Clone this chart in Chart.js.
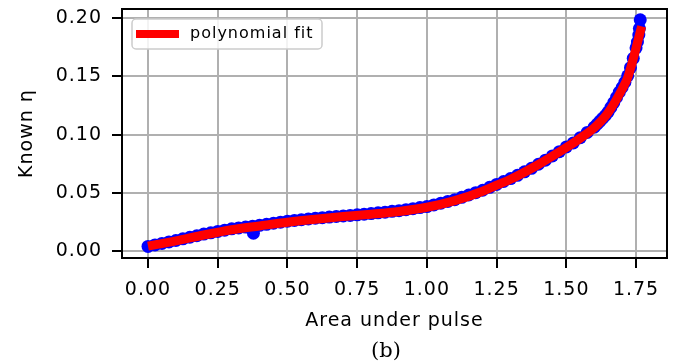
<!DOCTYPE html>
<html>
<head>
<meta charset="utf-8">
<script src="https://cdn.jsdelivr.net/npm/chart.js@4"></script>
<style>
  html, body { margin: 0; padding: 0; background: #fff; }
  canvas { display: block; }
</style>
</head>
<body>
<canvas id="fitChart" width="690" height="364"></canvas>
<script>
// ---- data ----
const xTicks = [0, 0.25, 0.5, 0.75, 1.0, 1.25, 1.5, 1.75];
const yTicks = [0, 0.05, 0.10, 0.15, 0.20];

// measured points (blue)
const scatterX = [
  0.000, 0.025, 0.050, 0.075, 0.100, 0.125, 0.150, 0.175, 0.200, 0.225,
  0.250, 0.275, 0.300, 0.325, 0.350, 0.375, 0.378, 0.400, 0.425, 0.450,
  0.475, 0.500, 0.525, 0.550, 0.575, 0.600, 0.625, 0.650, 0.675, 0.700,
  0.725, 0.750, 0.775, 0.800, 0.825, 0.850, 0.875, 0.900, 0.925, 0.950,
  0.975, 1.000, 1.025, 1.050, 1.075, 1.100, 1.125, 1.150, 1.175, 1.200,
  1.225, 1.250, 1.275, 1.300, 1.325, 1.350, 1.375, 1.400, 1.425, 1.450,
  1.475, 1.500, 1.525, 1.550, 1.575, 1.600, 1.610, 1.620, 1.630, 1.640,
  1.650, 1.660, 1.670, 1.680, 1.690, 1.700, 1.710, 1.720, 1.730, 1.740,
  1.750, 1.755, 1.760, 1.762, 1.765
];
const scatterY = [
  0.0042, 0.0055, 0.0068, 0.0081, 0.0093, 0.0107, 0.0121, 0.0134, 0.0148, 0.0159,
  0.0171, 0.0182, 0.0193, 0.0201, 0.0208, 0.0216, 0.0156, 0.0223, 0.0232, 0.0241,
  0.0250, 0.0259, 0.0265, 0.0272, 0.0278, 0.0284, 0.0289, 0.0294, 0.0299, 0.0304,
  0.0308, 0.0313, 0.0319, 0.0324, 0.0330, 0.0336, 0.0343, 0.0349, 0.0357, 0.0366,
  0.0375, 0.0384, 0.0398, 0.0413, 0.0428, 0.0443, 0.0463, 0.0483, 0.0503, 0.0524,
  0.0549, 0.0574, 0.0599, 0.0624, 0.0652, 0.0682, 0.0712, 0.0747, 0.0782, 0.0818,
  0.0855, 0.0895, 0.0930, 0.0975, 0.1020, 0.1065, 0.1090, 0.1115, 0.1140, 0.1165,
  0.1195, 0.1235, 0.1275, 0.1320, 0.1365, 0.1405, 0.1450, 0.1505, 0.1575, 0.1655,
  0.1745, 0.1795, 0.1855, 0.1910, 0.1985
];

// polynomial fit (red)
const fitX = [0, 0.1, 0.2, 0.3, 0.4, 0.5, 0.6, 0.7, 0.8, 0.9, 1.0, 1.1, 1.2, 1.25,
  1.3, 1.4, 1.5, 1.55, 1.6, 1.65, 1.7, 1.72, 1.74, 1.755, 1.77];
const fitY = [0.0045, 0.0090, 0.0140, 0.0185, 0.0218, 0.0250, 0.0276, 0.0298, 0.0318,
  0.0342, 0.0378, 0.0435, 0.0515, 0.0567, 0.0618, 0.0745, 0.0890, 0.0970, 0.1060,
  0.1190, 0.1390, 0.1490, 0.1650, 0.1790, 0.1930];

const FONT = 'DejaVu Sans';
Chart.defaults.font.family = FONT;
Chart.defaults.font.size = 19;
Chart.defaults.color = '#000';

// spread the glyphs a bit, like the reference
const spacingPlugin = {
  id: 'spacing',
  beforeLayout(chart) { chart.ctx.letterSpacing = '1px'; },
  beforeDraw(chart) { chart.ctx.letterSpacing = '1px'; }
};

// full box around the axes, inline legend and caption
const framePlugin = {
  id: 'frame',
  afterDraw(chart) {
    const { ctx, chartArea: a } = chart;
    ctx.save();
    ctx.strokeStyle = '#000';
    ctx.lineWidth = 2;
    ctx.strokeRect(a.left, a.top, a.right - a.left, a.bottom - a.top);

    // legend
    const lx = 132, ly = 19, lw = 190, lh = 30;
    ctx.beginPath();
    ctx.roundRect(lx, ly, lw, lh, 4);
    ctx.fillStyle = 'rgba(255,255,255,0.85)';
    ctx.fill();
    ctx.strokeStyle = '#cccccc';
    ctx.lineWidth = 1.5;
    ctx.stroke();
    ctx.beginPath();
    ctx.moveTo(136, 34);
    ctx.lineTo(179, 34);
    ctx.strokeStyle = '#ff0000';
    ctx.lineWidth = 8;
    ctx.stroke();
    ctx.letterSpacing = '1px';
    ctx.fillStyle = '#000';
    ctx.font = '16px "' + FONT + '"';
    ctx.textAlign = 'left';
    ctx.textBaseline = 'middle';
    ctx.fillText('polynomial fit', 190, 34);

    // caption
    ctx.letterSpacing = '0px';
    ctx.font = '21px "DejaVu Serif"';
    ctx.textAlign = 'center';
    ctx.fillText('(b)', 386, 352);
    ctx.restore();
  }
};

const ctx = document.getElementById('fitChart').getContext('2d');
const chart = new Chart(ctx, {
  type: 'scatter',
  data: {
    datasets: [
      {
        label: 'polynomial fit',
        data: fitX.map((x, i) => ({ x: x, y: fitY[i] })),
        showLine: true,
        borderColor: '#ff0000',
        borderWidth: 9,
        pointRadius: 0,
        cubicInterpolationMode: 'monotone',
        order: 0
      },
      {
        label: 'data',
        data: scatterX.map((x, i) => ({ x: x, y: scatterY[i] })),
        backgroundColor: '#0000ff',
        borderWidth: 0,
        pointRadius: 6.5,
        order: 1
      }
    ]
  },
  options: {
    responsive: false,
    animation: false,
    devicePixelRatio: 1,
    layout: { padding: { top: 9, right: 23, bottom: 0, left: 0 } },
    plugins: {
      legend: { display: false },
      tooltip: { enabled: false }
    },
    scales: {
      x: {
        type: 'linear',
        min: -0.0933,
        max: 1.861,
        afterBuildTicks: s => { s.ticks = xTicks.map(v => ({ value: v })); },
        afterFit: s => { s.height = 106; s.paddingLeft = 0; s.paddingRight = 0; },
        ticks: { padding: 11, callback: v => v.toFixed(2) },
        grid: { color: '#b0b0b0', lineWidth: 2, tickLength: 10, tickColor: '#000', tickWidth: 2 },
        border: { display: true, color: '#000', width: 2 },
        title: { display: true, text: 'Area under pulse', padding: { top: 0, bottom: 32 } }
      },
      y: {
        type: 'linear',
        min: -0.0057,
        max: 0.2078,
        afterBuildTicks: s => { s.ticks = yTicks.map(v => ({ value: v })); },
        afterFit: s => { s.width = 122; s.paddingTop = 0; s.paddingBottom = 0; },
        ticks: { padding: 10, callback: v => v.toFixed(2) },
        grid: { color: '#b0b0b0', lineWidth: 2, tickLength: 10, tickColor: '#000', tickWidth: 2 },
        border: { display: true, color: '#000', width: 2 },
        title: { display: true, text: 'Known η', padding: { top: 16, bottom: 0 } }
      }
    }
  },
  plugins: [spacingPlugin, framePlugin]
});
</script>
</body>
</html>
